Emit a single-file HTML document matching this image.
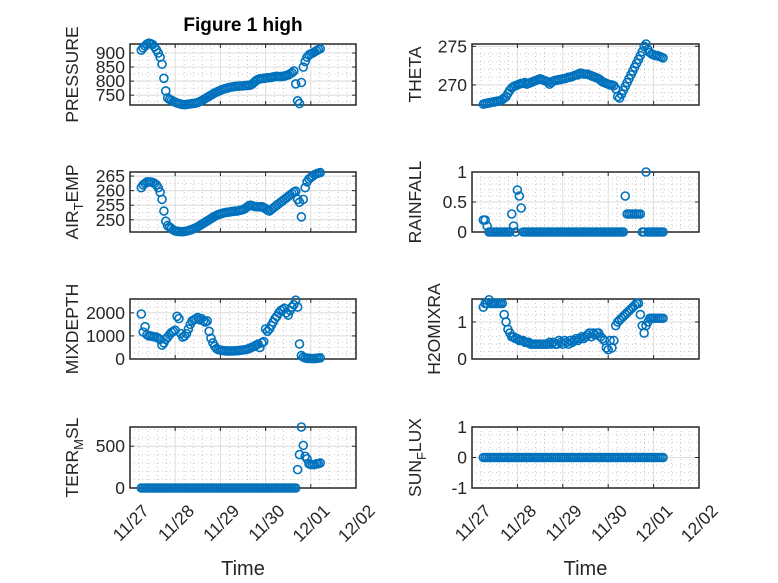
<!DOCTYPE html>
<html><head><meta charset="utf-8"><style>
html,body{margin:0;padding:0;background:#fff;}
svg{display:block;font-family:"Liberation Sans",sans-serif;}
</style></head><body>
<svg id="fig" width="778" height="583" viewBox="0 0 778 583">
<rect width="778" height="583" fill="#fff"/>
<text x="243" y="31" text-anchor="middle" font-weight="bold" font-size="19" fill="#000">Figure 1 high</text>
</svg>
<script>
// hours since 11/27 00:00 for each sample
const hours = [];
for (let h = 6; h <= 101; h++) hours.push(h);
const xTickLabels = ["11/27","11/28","11/29","11/30","12/01","12/02"];

const pressureVals = [910,918,925,932,935,933,930,922,912,900,885,860,810,765,740,735,732,728,725,722,720,718,717,716,717,718,719,720,721,722,724,727,730,734,738,742,746,750,754,758,761,764,767,770,772,774,776,778,779,780,781,782,782,783,783,784,784,785,786,790,796,802,806,808,809,810,811,812,812,813,815,816,817,816,816,817,818,820,822,826,830,836,790,730,720,795,850,870,885,893,897,900,904,908,912,915];
const thetaVals = [267.5,267.6,267.6,267.7,267.7,267.8,267.8,267.9,267.9,268.0,268.1,268.3,268.5,268.9,269.3,269.6,269.8,269.9,270.0,270.1,270.2,270.2,270.3,270.1,270.2,270.3,270.4,270.5,270.6,270.7,270.8,270.7,270.6,270.5,270.4,270.1,270.3,270.5,270.6,270.6,270.7,270.7,270.8,270.8,270.9,271.0,271.0,271.1,271.2,271.3,271.3,271.5,271.5,271.4,271.4,271.4,271.3,271.2,271.1,271.0,270.9,270.8,270.6,270.4,270.3,270.2,270.1,270.0,270.0,269.9,269.5,268.5,268.3,268.8,269.3,269.8,270.3,270.8,271.3,271.8,272.3,272.8,273.3,273.8,274.3,275.0,275.3,274.6,274.2,274.0,273.9,273.8,273.8,273.7,273.6,273.5];
const airTempVals = [261,262,262.5,263,263,263,262.8,262.5,262,261,259.5,257,253,249.5,248,247.5,247,246.5,246.2,246,246,245.9,245.9,246,246.1,246.3,246.5,246.7,247,247.3,247.6,248,248.4,248.8,249.2,249.6,250,250.4,250.8,251.2,251.5,251.8,252,252.2,252.4,252.5,252.6,252.7,252.8,252.9,253,253,253.2,253.3,253.5,253.8,254.3,254.8,255,254.8,254.6,254.5,254.5,254.4,254.5,254.2,253.8,253.3,253,253.5,254,254.5,255,255.5,256,256.5,257,257.5,258,258.5,259,259.5,259.8,257,256,251,257,261,263,264,264.5,265,265.5,265.8,266,266.2];
const rainVals = [0.2,0.2,0.1,0,0,0,0,0,0,0,0,0,0,0,0,0.3,0.1,0,0.7,0.6,0.4,0,0,0,0,0,0,0,0,0,0,0,0,0,0,0,0,0,0,0,0,0,0,0,0,0,0,0,0,0,0,0,0,0,0,0,0,0,0,0,0,0,0,0,0,0,0,0,0,0,0,0,0,0,0,0.6,0.3,0.3,0.3,0.3,0.3,0.3,0.3,0.3,0,0,1.0,0,0,0,0,0,0,0,0,0];
const mixDepthVals = [1950,1170,1400,1050,1000,1000,980,960,950,900,850,600,700,850,950,1050,1150,1200,1250,1850,1750,1100,950,1000,1100,1300,1500,1650,1700,1750,1800,1700,1750,1650,1600,1650,1200,900,700,550,450,400,380,370,360,350,350,350,350,350,360,360,370,380,390,400,420,450,480,520,550,600,650,500,700,750,1300,1200,1300,1450,1600,1750,1850,2000,2100,2150,2200,2000,1900,2100,2250,2350,2550,2250,650,150,80,50,30,30,20,20,20,30,40,50];
const h2oVals = [1.4,1.5,1.5,1.6,1.5,1.5,1.5,1.5,1.5,1.5,1.5,1.2,1.0,0.8,0.7,0.6,0.6,0.55,0.55,0.5,0.5,0.5,0.45,0.45,0.45,0.4,0.4,0.4,0.4,0.4,0.4,0.4,0.4,0.4,0.4,0.45,0.4,0.45,0.4,0.4,0.5,0.45,0.4,0.5,0.45,0.4,0.5,0.45,0.5,0.55,0.5,0.55,0.6,0.55,0.6,0.65,0.7,0.6,0.7,0.65,0.7,0.7,0.6,0.55,0.5,0.3,0.25,0.5,0.3,0.5,0.9,1.0,1.05,1.1,1.15,1.2,1.25,1.3,1.35,1.4,1.45,1.5,1.5,1.2,0.9,0.7,0.9,1.0,1.1,1.1,1.1,1.1,1.1,1.1,1.1,1.1];
const terrVals = [0,0,0,0,0,0,0,0,0,0,0,0,0,0,0,0,0,0,0,0,0,0,0,0,0,0,0,0,0,0,0,0,0,0,0,0,0,0,0,0,0,0,0,0,0,0,0,0,0,0,0,0,0,0,0,0,0,0,0,0,0,0,0,0,0,0,0,0,0,0,0,0,0,0,0,0,0,0,0,0,0,0,0,220,400,730,510,380,350,290,280,280,280,290,290,300];
const sunVals = [0,0,0,0,0,0,0,0,0,0,0,0,0,0,0,0,0,0,0,0,0,0,0,0,0,0,0,0,0,0,0,0,0,0,0,0,0,0,0,0,0,0,0,0,0,0,0,0,0,0,0,0,0,0,0,0,0,0,0,0,0,0,0,0,0,0,0,0,0,0,0,0,0,0,0,0,0,0,0,0,0,0,0,0,0,0,0,0,0,0,0,0,0,0,0,0];

const pressureTicks = [750,800,850,900];
const thetaTicks = [270,275];
const airTicks = [250,255,260,265];
const rainTicks = [0,0.5,1];
const mixTicks = [0,1000,2000];
const h2oTicks = [0,1];
const terrTicks = [0,500];
const sunTicks = [-1,0,1];

const NS = "http://www.w3.org/2000/svg";
const svg = document.getElementById("fig");
function mk(tag, attrs, parent) {
  const e = document.createElementNS(NS, tag);
  for (const k in attrs) e.setAttribute(k, attrs[k]);
  (parent || svg).appendChild(e);
  return e;
}
const COLS = [[130, 356], [472, 699]];
const ROWS = [[44, 105], [172, 232], [299, 359], [427, 488]];

const panels = [
  {name:"pressure", col:0,row:0, vals:pressureVals, ticks:pressureTicks, ylim:[715,932], minor:25, label:["PRESSURE"], lx:78},
  {name:"theta", col:1,row:0, vals:thetaVals, ticks:thetaTicks, ylim:[267.4,275.3], minor:1, label:["THETA"], lx:421},
  {name:"air-temp", col:0,row:1, vals:airTempVals, ticks:airTicks, ylim:[245.8,266.4], minor:2.5, label:["AIR","T","EMP"], lx:78},
  {name:"rainfall", col:1,row:1, vals:rainVals, ticks:rainTicks, ylim:[0,1], minor:0.1, label:["RAINFALL"], lx:421},
  {name:"mixdepth", col:0,row:2, vals:mixDepthVals, ticks:mixTicks, ylim:[0,2600], minor:250, label:["MIXDEPTH"], lx:78},
  {name:"h2omixra", col:1,row:2, vals:h2oVals, ticks:h2oTicks, ylim:[0,1.62], minor:0.2, label:["H2OMIXRA"], lx:440},
  {name:"terr-msl", col:0,row:3, vals:terrVals, ticks:terrTicks, ylim:[0,730], minor:100, label:["TERR","M","SL"], lx:78},
  {name:"sun-flux", col:1,row:3, vals:sunVals, ticks:sunTicks, ylim:[-1,1], minor:0.25, label:["SUN","F","LUX"], lx:421}
];

panels.forEach(p => {
  const [x0, x1] = COLS[p.col], [y0, y1] = ROWS[p.row];
  const g = mk("g", {});
  
  
  const xs = h => x0 + (h / 24) / 5 * (x1 - x0);
  const ys = v => y1 - (v - p.ylim[0]) / (p.ylim[1] - p.ylim[0]) * (y1 - y0);
  mk("rect", {x:x0, y:y0, width:x1-x0, height:y1-y0, fill:"#fff"}, g);
  for (let d = 0; d < 5; d++) for (let m = 1; m < 5; m++) {
    const x = xs((d + m / 5) * 24);
    mk("line", {x1:x, x2:x, y1:y0, y2:y1, stroke:"#c8c8c8", "stroke-width":1, "stroke-dasharray":"1 3"}, g);
  }
  const lo = Math.ceil(p.ylim[0] / p.minor) * p.minor;
  for (let v = lo; v <= p.ylim[1] + 1e-9; v += p.minor) {
    const y = ys(v);
    mk("line", {x1:x0, x2:x1, y1:y, y2:y, stroke:"#c8c8c8", "stroke-width":1, "stroke-dasharray":"1 3"}, g);
  }
  for (let d = 1; d < 5; d++) {
    const x = xs(d * 24);
    mk("line", {x1:x, x2:x, y1:y0, y2:y1, stroke:"#dedede", "stroke-width":1}, g);
  }
  p.ticks.forEach(v => {
    const y = ys(v);
    mk("line", {x1:x0, x2:x1, y1:y, y2:y, stroke:"#dedede", "stroke-width":1}, g);
    mk("line", {x1:x0, x2:x0+4, y1:y, y2:y, stroke:"#262626", "stroke-width":1}, g);
    mk("line", {x1:x1-4, x2:x1, y1:y, y2:y, stroke:"#262626", "stroke-width":1}, g);
    const t = mk("text", {x:x0-5, y:y+6, "text-anchor":"end", "font-size":17.5, fill:"#262626"}, g);
    t.textContent = String(v);
    
    
  });
  for (let d = 0; d <= 5; d++) {
    const x = xs(d * 24);
    mk("line", {x1:x, x2:x, y1:y1, y2:y1-4, stroke:"#262626", "stroke-width":1}, g);
    mk("line", {x1:x, x2:x, y1:y0, y2:y0+4, stroke:"#262626", "stroke-width":1}, g);
  }
  mk("rect", {x:x0, y:y0, width:x1-x0, height:y1-y0, fill:"none", stroke:"#262626", "stroke-width":1.5}, g);
  const pg = mk("g", {fill:"none", stroke:"#0072BD", "stroke-width":1.6}, g);
  p.vals.forEach((v, i) => {
    const c = mk("circle", {cx:xs(hours[i]), cy:ys(v), r:4}, pg);
    
    
  });
  const cy = (y0 + y1) / 2;
  const lab = mk("text", {transform:`translate(${p.lx},${cy}) rotate(-90)`, "text-anchor":"middle", "font-size":17.5, fill:"#262626"}, g);
  
  
  p.label.forEach((s, i) => {
    const ts = mk("tspan", {}, lab);
    if (i === 1) { ts.setAttribute("dy", "5"); ts.setAttribute("font-size", "13"); }
    if (i === 2) { ts.setAttribute("dy", "-5"); }
    ts.textContent = s;
  });
  if (p.row === 3) {
    xTickLabels.forEach((s, d) => {
      const x = xs(d * 24);
      const t = mk("text", {transform:`translate(${x+11},${y1+15}) rotate(-45)`, "text-anchor":"end", "dominant-baseline":"hanging", "font-size":17.5, fill:"#262626"}, g);
      t.textContent = s;
      
      
    });
    const xt = mk("text", {x:(x0+x1)/2, y:575, "text-anchor":"middle", "font-size":20, fill:"#262626"}, g);
    xt.textContent = "Time";
    
    
  }
});
</script>
</body></html>
